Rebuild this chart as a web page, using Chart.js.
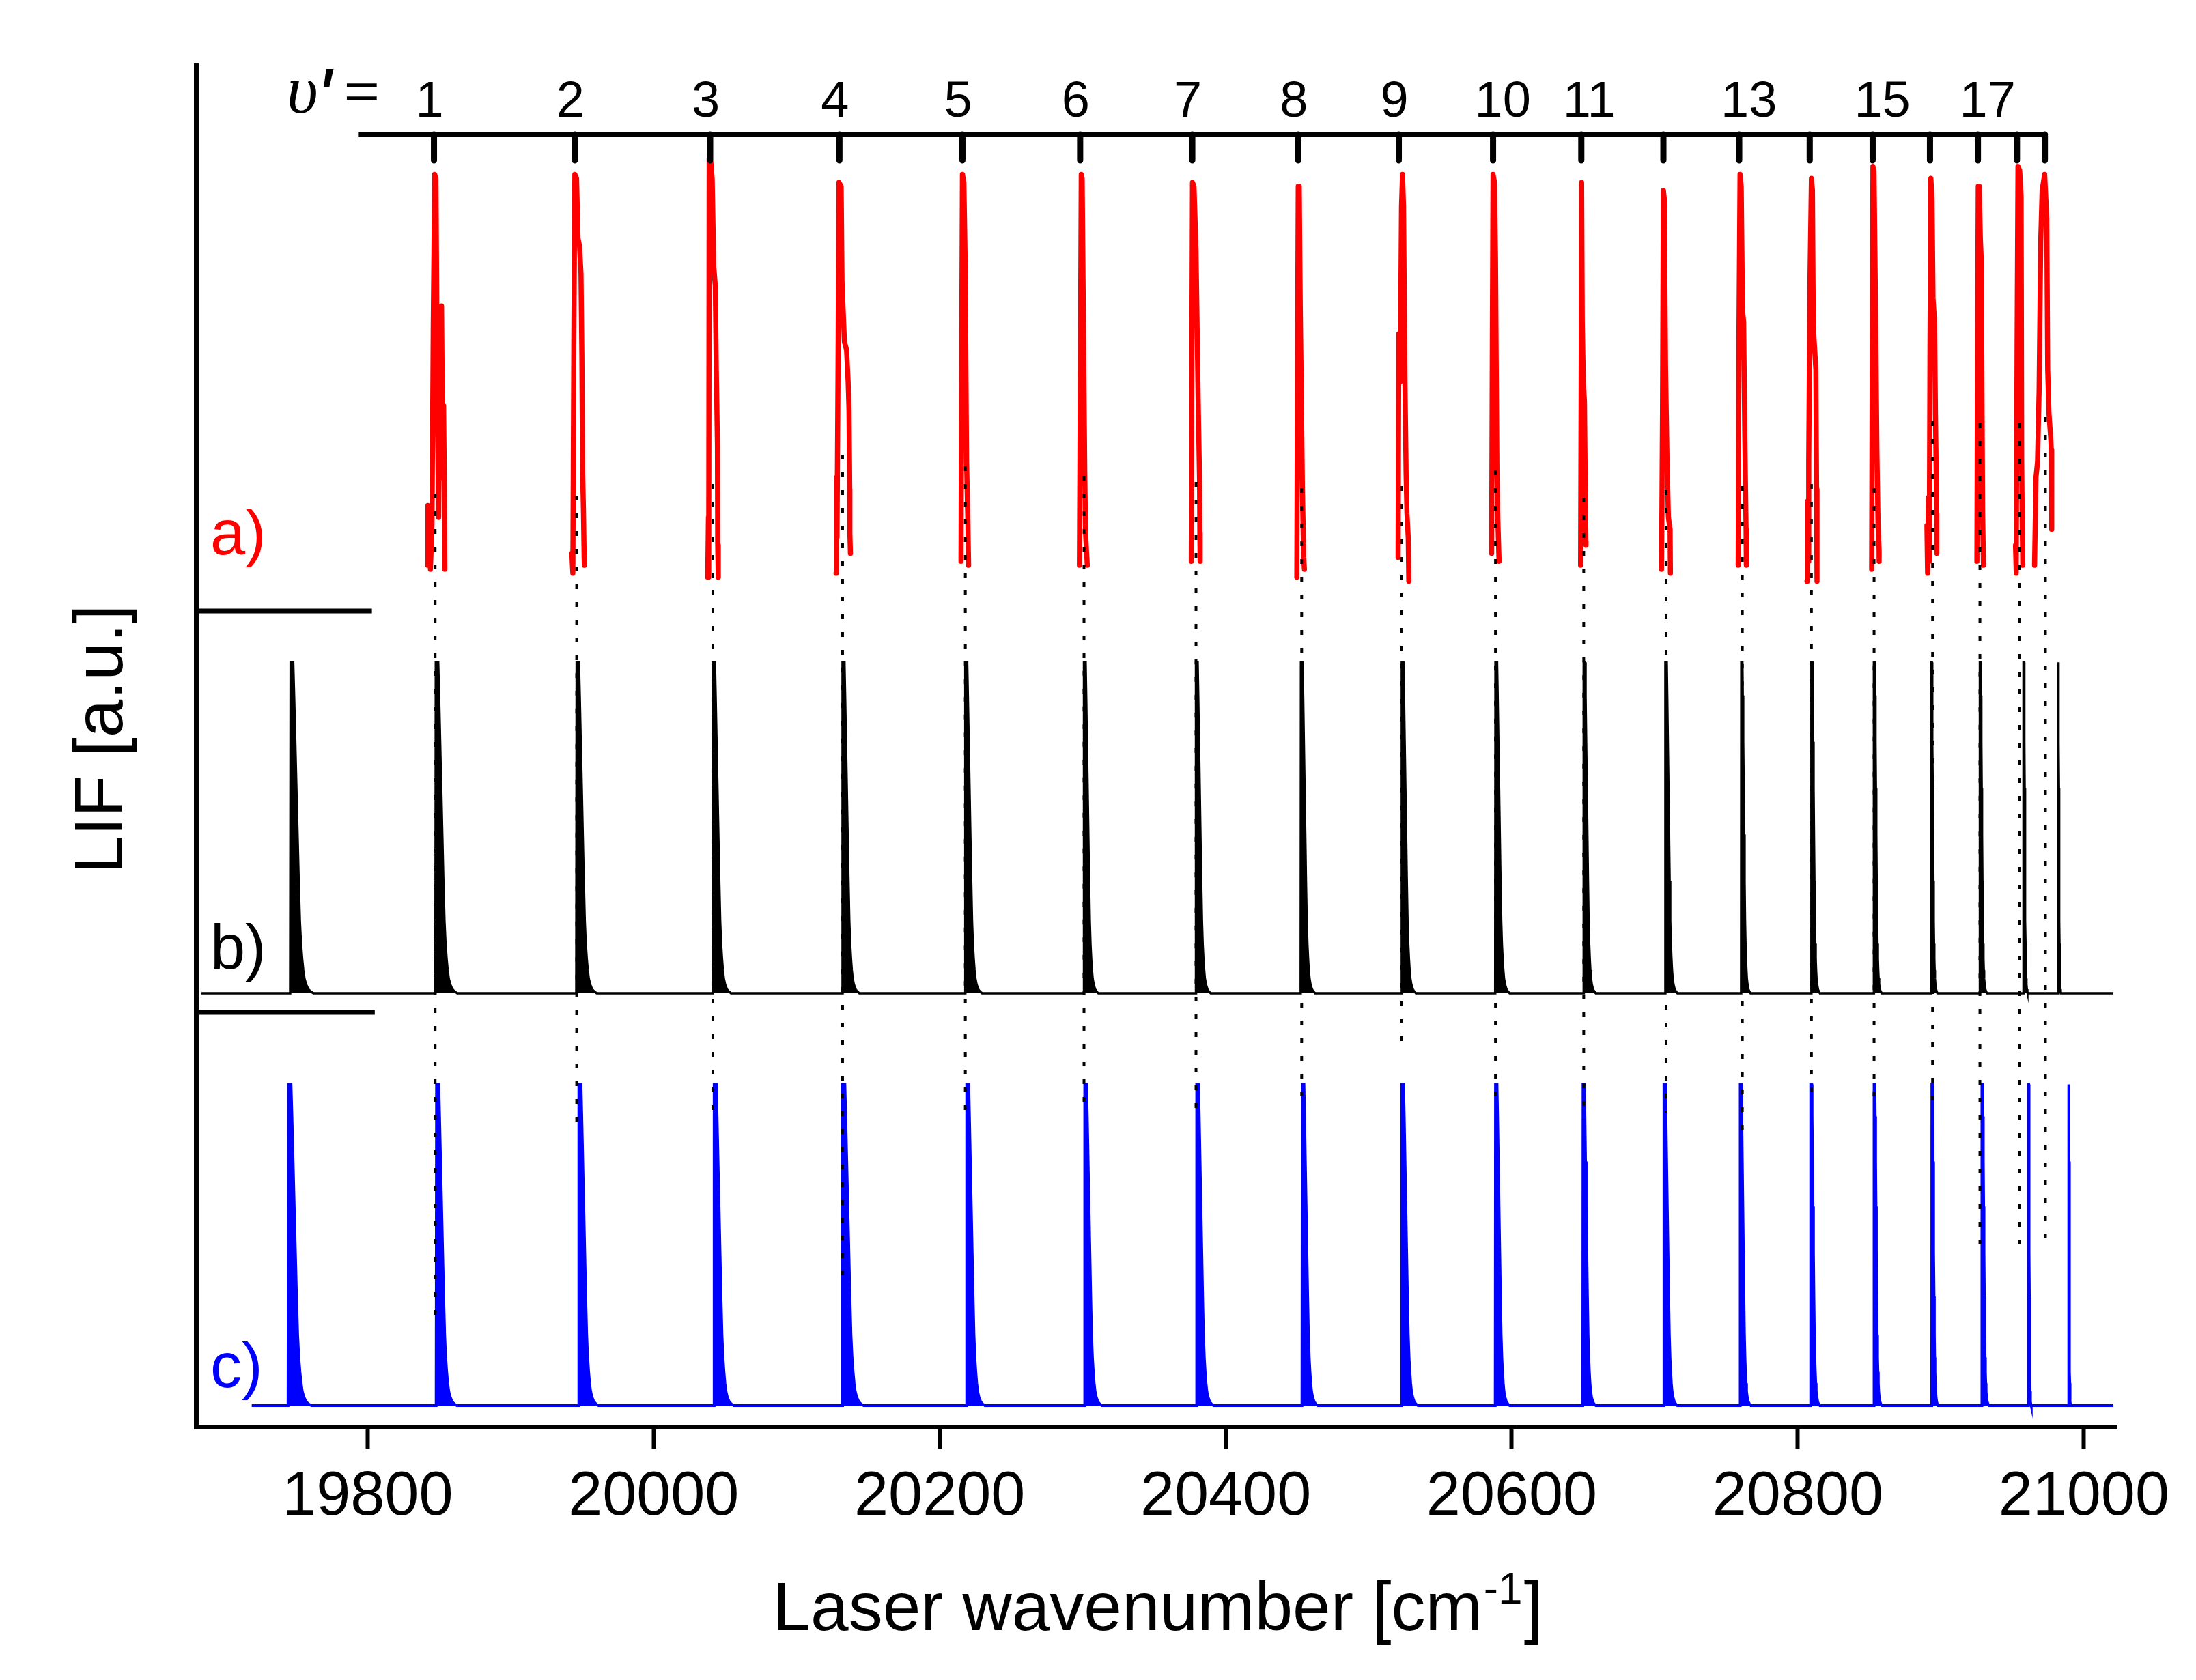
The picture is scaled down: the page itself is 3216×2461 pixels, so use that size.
<!DOCTYPE html>
<html lang="en">
<head>
<meta charset="UTF-8">
<title>LIF spectra</title>
<script src="https://cdn.jsdelivr.net/npm/chart.js@4.4.1/dist/chart.umd.min.js"></script>
<style>
  html, body { margin: 0; padding: 0; background: #fff; }
  canvas { display: block; }
</style>
</head>
<body>
<canvas id="lif" width="3216" height="2461" style="width:3216px;height:2461px"></canvas>
<script>
// ---- axis ----
const X_MIN = 19680, X_MAX = 21023;
const X_TICKS = [19800, 20000, 20200, 20400, 20600, 20800, 21000];

// ---- v' scale on top (experimental band positions, cm-1) ----
const V_TICKS = [19846.4, 19944.9, 20039.5, 20129.9, 20215.9, 20298.2, 20376.6, 20450.7, 20521.0,
                 20586.9, 20648.6, 20706.0, 20759.0, 20808.3, 20852.3, 20892.4, 20925.9, 20953.2, 20972.7];
const V_LABELS = ['1', '2', '3', '4', '5', '6', '7', '8', '9', '10', '11', '', '13', '', '15', '', '17', '', ''];

// ---- dotted guides: x, upper end, lower end (y in a.u.) ----
const GUIDE_X = [19847.2, 19946.2, 20041.4, 20132.1, 20217.9, 20300.9, 20379.2, 20453.1, 20523.1,
                 20588.6, 20650.3, 20707.9, 20761.2, 20809.5, 20853.3, 20894.2, 20927.3, 20954.9, 20973.1];
const GUIDE_TOP = [685.6, 684.1, 692.6, 714.1, 705.6, 698.6, 694.1, 689.6, 691.1, 702.6,
                   682.6, 688.1, 691.1, 692.6, 689.6, 738.7, 737.2, 737.2, 741.7];
const GUIDE_BOTTOM = [77.2, 217.2, 230.2, 111.3, 230.2, 235.2, 225.7, 234.7, 278.3, 237.7,
                      225.7, 230.7, 215.6, 237.7, 237.7, 234.7, 132.9, 132.9, 137.9];

// ---- a) measured LIF, per band: [offset from V_TICKS in cm-1, normalised signal] ----
const A_TRACES = [
  [[-4.4,0.02],[-4.2,0.17],[-3.0,0.16],[-2.5,0.01],[-1.4,0.12],[-0.5,0.62],[0.5,1.0],[1.4,0.99],[2.4,0.41],[3.3,0.14],[4.3,0.55],[5.3,0.67],[6.2,0.24],[6.7,0.42],[7.2,0.24],[7.6,0.01]],
  [[-2.1,0.05],[-1.4,0.0],[-0.7,0.58],[0,1.0],[1.2,0.99],[2.2,0.84],[3.3,0.82],[4.3,0.75],[4.9,0.55],[5.4,0.26],[6.0,0.16],[6.5,0.04],[6.7,0.02]],
  [[-1.7,-0.01],[-1.2,0.14],[-1.0,-0.01],[-0.67,1.04],[0.5,1.03],[1.4,0.99],[2.5,0.77],[3.6,0.72],[4.3,0.51],[5.1,0.32],[5.3,0.07],[5.7,-0.01]],
  [[-2.4,0.0],[-2.15,0.24],[-1.7,0.09],[-1.0,0.5],[-0.33,0.98],[1.2,0.97],[1.8,0.73],[3.5,0.58],[5.0,0.56],[6.1,0.48],[6.7,0.41],[7.2,0.21],[7.3,0.1],[7.7,0.05]],
  [[-1.0,0.03],[-0.5,0.58],[0,1.0],[1.0,0.98],[1.9,0.78],[2.9,0.28],[3.8,0.13],[4.3,0.02]],
  [[-0.5,0.02],[0.24,0.58],[0.77,1.0],[1.4,0.99],[2.2,0.66],[3.2,0.26],[3.8,0.1],[4.7,0.04],[5.0,0.02]],
  [[-0.7,0.03],[-0.24,0.58],[0.15,0.98],[1.2,0.97],[2.6,0.81],[4.1,0.44],[5.1,0.23],[5.3,0.1],[5.5,0.03]],
  [[-1.0,-0.01],[-0.5,0.55],[0,0.97],[0.7,0.97],[1.4,0.67],[2.9,0.21],[3.8,0.04],[4.3,0.01]],
  [[-0.5,0.04],[0,0.6],[1.0,0.48],[1.9,0.92],[2.6,1.0],[3.3,0.92],[4.3,0.48],[5.1,0.25],[5.7,0.15],[6.6,0.09],[7.0,-0.02]],
  [[-1.0,0.05],[-0.5,0.58],[0,1.0],[1.0,0.98],[1.7,0.79],[2.7,0.26],[3.3,0.14],[4.2,0.03]],
  [[-0.5,0.02],[0,0.58],[0.2,0.98],[0.67,0.63],[1.4,0.48],[2.2,0.43],[2.7,0.24],[3.2,0.08],[3.3,0.07]],
  [[-1.3,0.01],[-0.6,0.41],[0,0.96],[0.6,0.94],[1.5,0.52],[2.5,0.29],[3.5,0.14],[4.7,0.11],[4.9,0]],
  [[-0.7,0.02],[-0.2,0.58],[0.6,1.0],[1.4,0.97],[2.3,0.66],[3.1,0.63],[3.9,0.35],[4.8,0.11],[5.0,0.02]],
  [[-1.9,-0.02],[-1.7,0.18],[-1.0,0.03],[-0.7,0.28],[0.24,0.75],[1.2,0.99],[1.9,0.96],[2.5,0.62],[4.3,0.51],[4.8,0.21],[5.1,-0.02]],
  [[-0.7,0.01],[-0.24,0.58],[0.2,1.02],[0.96,1.01],[2.3,0.57],[2.96,0.31],[3.8,0.12],[4.5,0.06],[4.55,0.03]],
  [[-2.15,0.12],[-1.67,0],[-1.1,0.19],[-0.5,0.03],[0,0.58],[0.62,0.99],[1.4,0.94],[2.1,0.69],[3.2,0.63],[3.8,0.4],[4.7,0.15],[4.8,0.05]],
  [[-0.7,0.03],[-0.24,0.58],[0.24,0.97],[0.96,0.97],[1.7,0.84],[2.4,0.78],[2.9,0.41],[3.3,0.15],[3.9,0.02]],
  [[-1.0,0.07],[-0.5,0],[0.1,0.58],[0.72,1.02],[1.9,1.01],[2.9,0.945],[3.3,0.28],[3.7,0.12],[4.1,0.02]],
  [[-7.2,0.02],[-6.2,0.24],[-5.1,0.28],[-4.0,0.46],[-2.9,0.83],[-1.9,0.96],[-0.14,1.0],[1.34,0.89],[2.0,0.51],[2.9,0.4],[4.1,0.34],[4.5,0.31],[4.8,0.11]]
];

// ---- b), c) simulated bands: head positions (cm-1) and tail widths (cm-1), v' = 0..19 ----
const B_HEADS = [19746.2, 19847.7, 19946.2, 20041.4, 20132.1, 20217.9, 20300.9, 20379.2, 20452.6, 20523.1,
                 20588.6, 20650.3, 20707.4, 20760.5, 20809.5, 20853.2, 20893.2, 20927.3, 20957.8, 20982.0];
const B_TAILS = [16, 15, 14, 12.7, 11.7, 11.7, 10, 10.3, 9.9, 9.9, 9.9, 8.4, 8.4, 6.4, 5.9, 5.4, 4.4, 4.9, 3, 2];
const C_HEADS = [19744.7, 19848.2, 19947.7, 20042.3, 20132.1, 20218.9, 20301.4, 20379.7, 20453.5, 20523.1,
                 20588.6, 20649.8, 20706.4, 20759.7, 20809.0, 20853.3, 20893.7, 20928.7, 20961.2, 20989.3];
const C_TAILS = [16, 14.2, 13.7, 13.7, 14.7, 12.7, 12, 11.8, 10.8, 11.3, 9.9, 8.9, 9.4, 7.4, 6.4, 5.4, 4.4, 4.9, 2, 1.5];
// band contour (fraction of tail width, normalised intensity)
const PEAK_X = [-0.02, 0, 0.11, 0.15, 0.2, 0.25, 0.3, 0.35, 0.4, 0.45, 0.5, 0.55, 0.6, 0.67, 0.77, 0.88, 1];
const PEAK_Y = [0, 1, 1, 0.9, 0.76, 0.62, 0.48, 0.34, 0.22, 0.15, 0.105, 0.07, 0.045, 0.027, 0.012, 0.005, 0];

// ---- stacking of the three traces on the a.u. axis ----
const A_BASE = 627, A_AMP = 293;
const B_BASE = 318.5, B_AMP = 243;
const C_BASE = 15.5, C_AMP = 236;
const B_RANGE = [19683.8, 21020.6];
const C_RANGE = [19719, 21020.6];
const TOP_AXIS_X = [19793.8, 20974.2];
const TOP_AXIS_Y = 949.4, TOP_TICK_END = 930.3;
const SEP_Y = [599.3, 304.4], SEP_X_END = [19803, 19805];

const SANS = '"Liberation Sans", Arial, sans-serif';
const SERIF = '"Liberation Serif", "Times New Roman", serif';

function bandSpectrum(heads, tails, base, amp, range) {
  const pts = [{x: range[0], y: base}];
  heads.forEach((h, i) => {
    PEAK_X.forEach((f, k) => pts.push({x: h + f * tails[i], y: base + PEAK_Y[k] * amp}));
  });
  pts.push({x: range[1], y: base});
  return pts;
}

const aData = [];
A_TRACES.forEach((tr, i) => {
  tr.forEach(p => aData.push({x: V_TICKS[i] + p[0], y: A_BASE + p[1] * A_AMP}));
  aData.push({x: V_TICKS[i], y: null});
});

const tickData = [];
V_TICKS.forEach(v => {
  tickData.push({x: v, y: TOP_AXIS_Y}, {x: v, y: TOP_TICK_END}, {x: v, y: null});
});

const guideData = [];
GUIDE_X.forEach((g, i) => {
  guideData.push({x: g, y: GUIDE_TOP[i]}, {x: g, y: GUIDE_BOTTOM[i]}, {x: g, y: null});
});

const sepData = [];
SEP_Y.forEach((s, i) => {
  sepData.push({x: X_MIN, y: s}, {x: SEP_X_END[i], y: s}, {x: X_MIN, y: null});
});

const textLayer = {
  id: 'textLayer',
  afterDraw(chart) {
    const {ctx, chartArea} = chart;
    const xs = chart.scales.x, ys = chart.scales.y;
    ctx.save();
    ctx.fillStyle = '#000';
    ctx.textBaseline = 'alphabetic';
    ctx.textAlign = 'left';

    // v' numbers
    ctx.font = '74px ' + SANS;
    V_TICKS.forEach((v, i) => {
      if (V_LABELS[i]) ctx.fillText(V_LABELS[i], xs.getPixelForValue(v) - 27, ys.getPixelForValue(962.6));
    });
    ctx.font = 'italic 100px ' + SERIF;
    ctx.fillText('\u03C5', xs.getPixelForValue(19743.5), ys.getPixelForValue(965.4));
    ctx.font = 'italic 120px ' + SANS;
    ctx.fillText('\'', xs.getPixelForValue(19763.7), ys.getPixelForValue(955.9));
    ctx.font = '94px ' + SERIF;
    ctx.fillText('=', xs.getPixelForValue(19783.3), ys.getPixelForValue(965.2));

    // panel letters
    ctx.font = '92px ' + SANS;
    [['a)', '#ff0000', 641], ['b)', '#000000', 336.5], ['c)', '#0000ff', 29.1]].forEach(l => {
      ctx.fillStyle = l[1];
      ctx.fillText(l[0], xs.getPixelForValue(19690), ys.getPixelForValue(l[2]));
    });

    // x title with superscript
    ctx.fillStyle = '#000';
    const main = 'Laser wavenumber [cm', sup = '-1', close = ']';
    ctx.font = '100px ' + SANS;
    const wMain = ctx.measureText(main).width, wClose = ctx.measureText(close).width;
    ctx.font = '64px ' + SANS;
    const wSup = ctx.measureText(sup).width;
    let tx = (chartArea.left + chartArea.right) / 2 - (wMain + wSup + wClose) / 2;
    const ty = chartArea.bottom + 298;
    ctx.font = '100px ' + SANS;
    ctx.fillText(main, tx, ty);
    ctx.font = '64px ' + SANS;
    ctx.fillText(sup, tx + wMain + 2, ty - 39);
    ctx.font = '100px ' + SANS;
    ctx.fillText(close, tx + wMain + wSup + 4, ty);

    // y title
    ctx.translate(chartArea.left - 108, (chartArea.top + chartArea.bottom) / 2 - 10);
    ctx.rotate(-Math.PI / 2);
    ctx.textAlign = 'center';
    ctx.fillText('LIF [a.u.]', 0, 0);
    ctx.restore();
  }
};

const line = (data, color, width, order, extra) => Object.assign({
  data: data, showLine: true, borderColor: color, backgroundColor: color, borderWidth: width,
  pointRadius: 0, pointHoverRadius: 0, spanGaps: false, fill: false, order: order
}, extra || {});

new Chart(document.getElementById('lif'), {
  type: 'scatter',
  data: {
    datasets: [
      line(guideData, '#000', 4, 0, {borderDash: [7, 19]}),
      line([{x: TOP_AXIS_X[0], y: TOP_AXIS_Y}, {x: TOP_AXIS_X[1], y: TOP_AXIS_Y}], '#000', 8, 1),
      line(tickData, '#000', 9, 1, {borderCapStyle: 'round'}),
      line(bandSpectrum(C_HEADS, C_TAILS, C_BASE, C_AMP, C_RANGE), '#0000ff', 4, 2, {fill: {value: C_BASE}}),
      line(bandSpectrum(B_HEADS, B_TAILS, B_BASE, B_AMP, B_RANGE), '#000000', 3.5, 3, {fill: {value: B_BASE}}),
      line(aData, '#ff0000', 7.5, 4, {borderJoinStyle: 'round', borderCapStyle: 'round'}),
      line(sepData, '#000', 7, 5)
    ]
  },
  options: {
    responsive: false,
    devicePixelRatio: 1,
    animation: false,
    events: [],
    layout: {padding: {left: 0, top: 96, right: 116, bottom: 0}},
    plugins: {legend: {display: false}, tooltip: {enabled: false}},
    scales: {
      x: {
        type: 'linear', position: 'bottom', min: X_MIN, max: X_MAX,
        afterBuildTicks: s => { s.ticks = X_TICKS.map(v => ({value: v})); },
        afterFit: s => { s.height = 371; },
        ticks: {
          callback: v => String(v), color: '#000', padding: 18, maxRotation: 0, autoSkip: false,
          font: {family: SANS, size: 90}
        },
        grid: {display: true, drawOnChartArea: false, drawTicks: true, tickLength: 32, tickWidth: 6, tickColor: '#000'},
        border: {display: true, color: '#000', width: 7}
      },
      y: {
        type: 'linear', position: 'left', min: 0, max: 1000,
        afterFit: s => { s.width = 287; },
        ticks: {display: false},
        grid: {display: false, drawTicks: false},
        border: {display: true, color: '#000', width: 7}
      }
    }
  },
  plugins: [textLayer]
});
</script>
</body>
</html>
